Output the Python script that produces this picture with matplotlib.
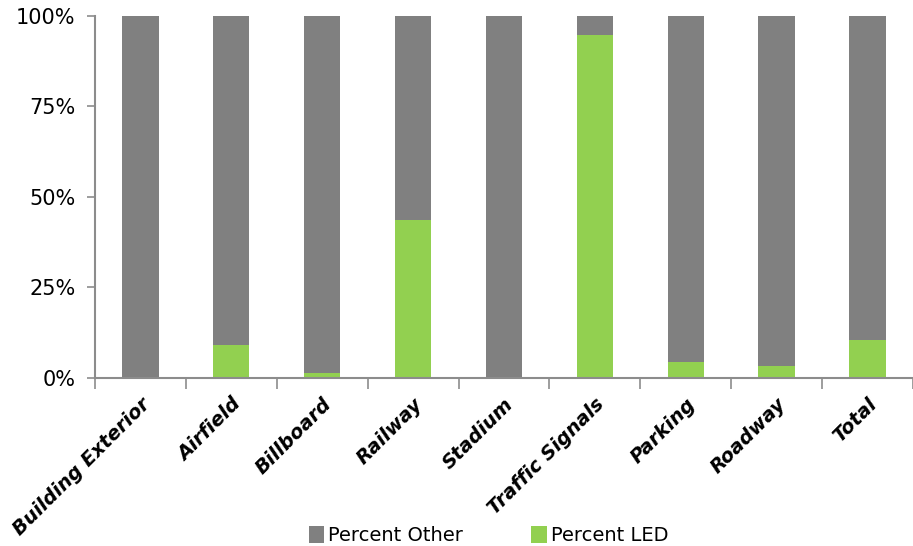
import matplotlib
matplotlib.use("Agg")
import matplotlib.pyplot as plt
import numpy as np
from matplotlib.ticker import FuncFormatter

categories = ["Building Exterior", "Airfield", "Billboard", "Railway", "Stadium",
              "Traffic Signals", "Parking", "Roadway", "Total"]
pct_led = [0.0, 9.1, 1.3, 43.6, 0.0, 94.8, 4.4, 3.3, 10.5]
pct_other = [100 - v for v in pct_led]

gray = "#808080"
green = "#92D050"
axis_col = "#8c8c8c"

fig = plt.figure(figsize=(9.13, 5.46), dpi=100)
ax = fig.add_axes([0.104, 0.308, 0.896, 0.663])

x = np.arange(len(categories))
ax.bar(x, pct_led, width=0.4, color=green, label="Percent LED")
ax.bar(x, pct_other, width=0.4, bottom=pct_led, color=gray, label="Percent Other")

ax.set_xlim(-0.5, len(categories) - 0.5)
ax.set_ylim(0, 100)
ax.set_yticks([0, 25, 50, 75, 100])
ax.yaxis.set_major_formatter(FuncFormatter(lambda v, p: "{:d}%".format(int(v))))
ax.tick_params(axis="y", labelsize=15, length=6, color=axis_col, width=1.2, pad=8)

# labels at bar centres, tick marks at category boundaries
ax.set_xticks(x)
ax.set_xticklabels(categories, rotation=45, ha="right", rotation_mode="anchor",
                   fontsize=14, fontweight="bold", fontstyle="italic")
ax.tick_params(axis="x", length=0, pad=12)
ax.set_xticks(np.arange(-0.5, len(categories)), minor=True)
ax.tick_params(axis="x", which="minor", length=8, color=axis_col, width=1.2)

for s in ["top", "right"]:
    ax.spines[s].set_visible(False)
for s in ["left", "bottom"]:
    ax.spines[s].set_color(axis_col)
    ax.spines[s].set_linewidth(1.5)

handles, labels = ax.get_legend_handles_labels()
fig.legend(handles[::-1], labels[::-1], loc="lower center", ncol=2, frameon=False,
           fontsize=14, handlelength=0.8, handleheight=1.0, columnspacing=3.5,
           handletextpad=0.2, bbox_to_anchor=(0.535, -0.03))

fig.savefig("out.png", dpi=100)
